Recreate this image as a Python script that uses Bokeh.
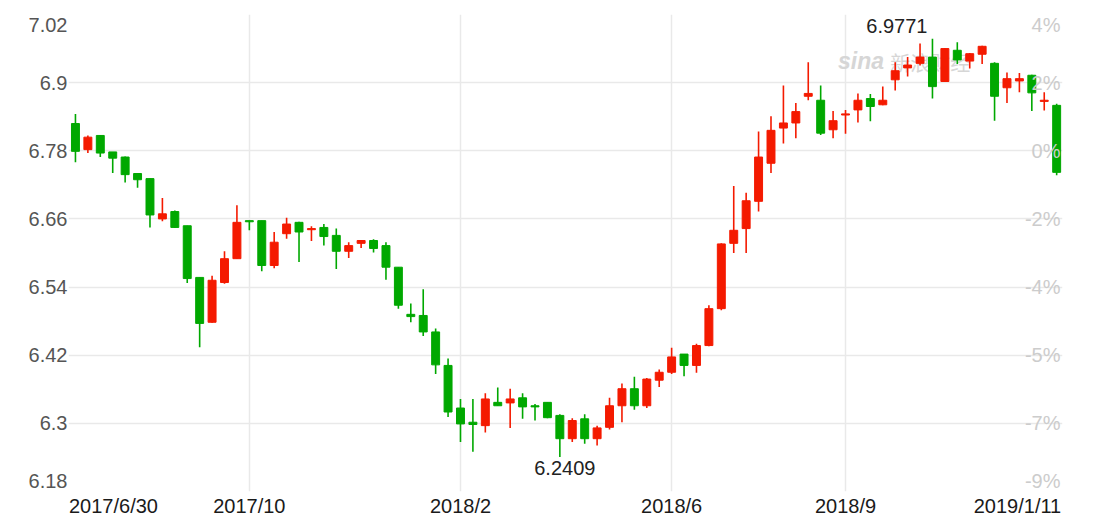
from bokeh.plotting import figure
from bokeh.models import ColumnDataSource, FixedTicker, Label, Range1d
from bokeh.embed import file_html
from bokeh.resources import INLINE

# weekly USD/CNY candles, 2017/6/30 .. 2019/1/11
opens = [6.828, 6.782, 6.807, 6.778, 6.769, 6.740, 6.731, 6.660, 6.673, 6.648,
         6.557, 6.478, 6.548, 6.590, 6.657, 6.657, 6.578, 6.634, 6.654, 6.641,
         6.645, 6.631, 6.603, 6.617, 6.622, 6.613, 6.575, 6.492, 6.490, 6.461,
         6.402, 6.327, 6.302, 6.296, 6.337, 6.336, 6.345, 6.331, 6.337, 6.314,
         6.273, 6.308, 6.273, 6.293, 6.331, 6.361, 6.331, 6.376, 6.390, 6.422,
         6.402, 6.437, 6.502, 6.617, 6.643, 6.691, 6.758, 6.820, 6.829, 6.876,
         6.869, 6.817, 6.843, 6.852, 6.872, 6.861, 6.905, 6.926, 6.934, 6.945,
         6.902, 6.957, 6.938, 6.950, 6.934, 6.891, 6.903, 6.913, 6.867, 6.860]
highs = [6.845, 6.807, 6.808, 6.778, 6.770, 6.740, 6.731, 6.697, 6.675, 6.648,
         6.557, 6.560, 6.603, 6.684, 6.657, 6.657, 6.637, 6.662, 6.655, 6.647,
         6.651, 6.643, 6.619, 6.622, 6.624, 6.619, 6.575, 6.511, 6.536, 6.467,
         6.414, 6.343, 6.343, 6.353, 6.363, 6.361, 6.353, 6.334, 6.337, 6.316,
         6.309, 6.316, 6.296, 6.345, 6.370, 6.382, 6.380, 6.395, 6.433, 6.422,
         6.440, 6.508, 6.617, 6.718, 6.706, 6.814, 6.841, 6.895, 6.864, 6.936,
         6.895, 6.850, 6.852, 6.881, 6.880, 6.893, 6.936, 6.945, 6.969, 6.9771,
         6.961, 6.971, 6.952, 6.965, 6.936, 6.918, 6.917, 6.914, 6.883, 6.863]
lows = [6.760, 6.776, 6.769, 6.741, 6.724, 6.715, 6.645, 6.656, 6.644, 6.547,
        6.434, 6.477, 6.546, 6.590, 6.640, 6.568, 6.573, 6.625, 6.584, 6.621,
        6.613, 6.572, 6.591, 6.609, 6.601, 6.553, 6.502, 6.478, 6.454, 6.387,
        6.311, 6.267, 6.250, 6.284, 6.331, 6.292, 6.308, 6.305, 6.309, 6.2409,
        6.267, 6.264, 6.261, 6.289, 6.302, 6.324, 6.327, 6.364, 6.387, 6.383,
        6.389, 6.436, 6.499, 6.600, 6.600, 6.673, 6.741, 6.793, 6.802, 6.869,
        6.808, 6.802, 6.810, 6.830, 6.832, 6.860, 6.886, 6.911, 6.930, 6.872,
        6.901, 6.933, 6.925, 6.933, 6.833, 6.864, 6.883, 6.850, 6.851, 6.737]
closes = [6.779, 6.804, 6.776, 6.767, 6.738, 6.729, 6.667, 6.669, 6.645, 6.555,
          6.476, 6.552, 6.590, 6.654, 6.655, 6.578, 6.619, 6.651, 6.637, 6.643,
          6.629, 6.603, 6.613, 6.622, 6.608, 6.575, 6.508, 6.488, 6.461, 6.403,
          6.320, 6.299, 6.298, 6.343, 6.331, 6.343, 6.329, 6.329, 6.310, 6.273,
          6.305, 6.273, 6.292, 6.331, 6.361, 6.331, 6.378, 6.390, 6.417, 6.402,
          6.437, 6.502, 6.616, 6.640, 6.692, 6.769, 6.816, 6.829, 6.849, 6.881,
          6.811, 6.833, 6.845, 6.869, 6.858, 6.869, 6.921, 6.931, 6.945, 6.893,
          6.960, 6.940, 6.951, 6.964, 6.876, 6.907, 6.907, 6.882, 6.869, 6.742]

price_ticks = [7.02, 6.9, 6.78, 6.66, 6.54, 6.42, 6.3, 6.18]
pct_labels = ["4%", "2%", "0%", "-2%", "-4%", "-5%", "-7%", "-9%"]
date_pos = [0, 14, 31, 48, 62, 79]
date_labels = ["2017/6/30", "2017/10", "2018/2", "2018/6", "2018/9", "2019/1/11"]

UP = "#f41a00"
DOWN = "#00a800"
FONT = "Liberation Sans"
FS = "20px"

W, H = 1093, 524
BL, BR, BT, BB = 68, 31, 14, 33
FW = W - BL - BR
FH = H - BT - BB

n = len(opens)
x_start, x_end = -0.56, n - 0.53
y_start, y_end = price_ticks[-1], price_ticks[0]
px_x = (x_end - x_start) / FW
px_y = (y_end - y_start) / FH

xs = list(range(n))
colors = [UP if c >= o else DOWN for o, c in zip(opens, closes)]
src = ColumnDataSource(dict(
    x=xs, high=highs, low=lows,
    top=[max(o, c) for o, c in zip(opens, closes)],
    bottom=[min(o, c) for o, c in zip(opens, closes)],
    color=colors,
))

p = figure(width=W, height=H, x_range=Range1d(x_start, x_end),
           y_range=Range1d(y_start, y_end), output_backend="svg",
           toolbar_location=None, min_border_left=BL, min_border_right=BR,
           min_border_top=BT, min_border_bottom=BB)
p.outline_line_color = None
p.background_fill_color = "white"
p.border_fill_color = "white"

# grid
p.ygrid.ticker = FixedTicker(ticks=price_ticks)
p.xgrid.ticker = FixedTicker(ticks=date_pos[1:-1])
for g in (p.xgrid, p.ygrid):
    g.grid_line_color = "#e9e9e9"
    g.grid_line_width = 1.5

# left axis: the extreme labels sit just inside their grid lines
y_label_pos = list(price_ticks)
y_label_pos[0] = price_ticks[0] - 10 * px_y
y_label_pos[-1] = price_ticks[-1] + 11 * px_y
p.yaxis.ticker = FixedTicker(ticks=y_label_pos)
p.yaxis.major_label_overrides = {pos: ("%g" % t) for pos, t in zip(y_label_pos, price_ticks)}
p.yaxis.axis_line_color = None
p.yaxis.major_tick_line_color = None
p.yaxis.minor_tick_line_color = None
p.yaxis.major_tick_out = 0
p.yaxis.major_tick_in = 0
p.yaxis.major_label_standoff = 1
p.yaxis.major_label_text_font = FONT
p.yaxis.major_label_text_font_size = FS
p.yaxis.major_label_text_color = "#555555"

# bottom axis: first label starts at the frame's left edge, last one ends at its right edge
x_label_pos = list(date_pos)
x_label_pos[0] = x_start + 45 * px_x
x_label_pos[-1] = x_end - 45 * px_x
p.xaxis.ticker = FixedTicker(ticks=x_label_pos)
p.xaxis.major_label_overrides = {pos: lab for pos, lab in zip(x_label_pos, date_labels)}
p.xaxis.axis_line_color = None
p.xaxis.major_tick_line_color = None
p.xaxis.minor_tick_line_color = None
p.xaxis.major_tick_out = 0
p.xaxis.major_tick_in = 0
p.xaxis.major_label_standoff = 3
p.xaxis.major_label_text_font = FONT
p.xaxis.major_label_text_font_size = FS
p.xaxis.major_label_text_color = "#1a1a1a"

# watermark
p.add_layout(Label(x=61.4, y=y_end - 46 * px_y, text="sina", text_font=FONT,
                   text_font_style="bold italic", text_font_size="23px",
                   text_color="#d6d6d6", text_baseline="middle", level="underlay"))
p.add_layout(Label(x=65.6, y=y_end - 48 * px_y, text="新浪财经", text_font="Noto Sans CJK SC",
                   text_font_size="20px", text_color="#d6d6d6", text_baseline="middle",
                   level="underlay"))

# candles
p.segment(x0="x", y0="high", x1="x", y1="low", source=src, line_color="color", line_width=1.6)
p.vbar(x="x", width=0.64, top="top", bottom="bottom", source=src,
       fill_color="color", line_color="color", line_width=1)

# right percentage labels inside the frame
for yy, lab in zip(y_label_pos, pct_labels):
    p.add_layout(Label(x=x_end - 2 * px_x, y=yy, text=lab, text_align="right",
                       text_baseline="middle", text_font=FONT, text_font_size=FS,
                       text_color="#cccccc"))

# max / min annotations
imax = max(range(n), key=lambda i: highs[i])
imin = min(range(n), key=lambda i: lows[i])
p.add_layout(Label(x=imax - 0.4, y=highs[imax] + 13 * px_y, text="%.4f" % highs[imax],
                   text_align="right", text_baseline="middle", text_font=FONT,
                   text_font_size=FS, text_color="#222222"))
p.add_layout(Label(x=imin + 0.4, y=lows[imin] - 11 * px_y, text="%.4f" % lows[imin],
                   text_align="center", text_baseline="middle", text_font=FONT,
                   text_font_size=FS, text_color="#222222"))

open("out.html", "w").write(file_html(p, INLINE))
